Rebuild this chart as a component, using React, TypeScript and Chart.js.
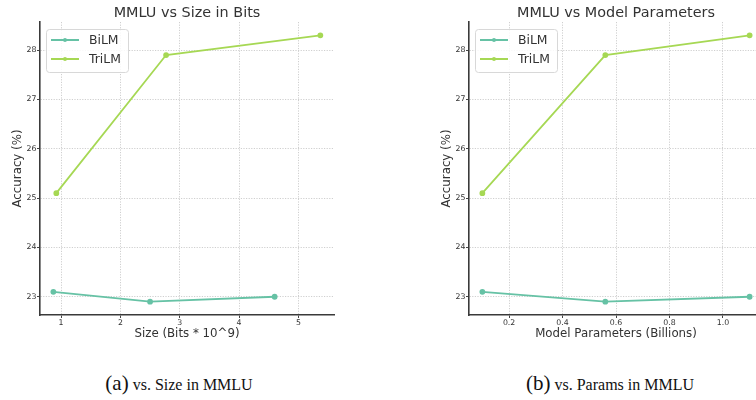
import React, { useEffect, useRef } from "react";
import { Chart, registerables } from "chart.js";

Chart.register(...registerables);

// ---- data ----
const seriesNames = ["BiLM", "TriLM"];
const seriesColors = ["#66c2a5", "#a6d854"];
const bitsBiLM = [0.87, 2.5, 4.6];
const bitsTriLM = [0.92, 2.77, 5.37];
const paramsBiLM = [0.1, 0.56, 1.1];
const paramsTriLM = [0.1, 0.56, 1.1];
const accBiLM = [23.1, 22.9, 23.0];
const accTriLM = [25.1, 27.9, 28.3];
const yTicks = [23, 24, 25, 26, 27, 28];
const xTicksBits = [1, 2, 3, 4, 5];
const xTicksParams = [0.2, 0.4, 0.6, 0.8, 1.0];

const FONT = "'DejaVu Sans', sans-serif";
const TEXT = "#333333";

const legendPlugin = {
  id: "boxLegend",
  afterDatasetsDraw(chart: any, _args: any, opts: any) {
    const { ctx, chartArea } = chart;
    ctx.save();
    // title centred over the plot area
    ctx.fillStyle = TEXT;
    ctx.font = `14.4px ${FONT}`;
    ctx.textAlign = "center";
    ctx.textBaseline = "middle";
    ctx.fillText(opts.title, (chartArea.left + chartArea.right) / 2, 13);

    const x = chartArea.left + 6;
    const y = chartArea.top + 7;
    const w = 82;
    const h = 43;
    ctx.fillStyle = "rgba(255,255,255,0.85)";
    ctx.strokeStyle = "#d8d8d8";
    ctx.lineWidth = 1;
    ctx.beginPath();
    if (ctx.roundRect) ctx.roundRect(x + 0.5, y + 0.5, w, h, 3);
    else ctx.rect(x + 0.5, y + 0.5, w, h);
    ctx.fill();
    ctx.stroke();
    chart.data.datasets.forEach((ds: any, i: number) => {
      const ly = y + 11 + i * 19;
      ctx.strokeStyle = ds.borderColor;
      ctx.lineWidth = 2;
      ctx.beginPath();
      ctx.moveTo(x + 5, ly);
      ctx.lineTo(x + 33, ly);
      ctx.stroke();
      ctx.fillStyle = ds.borderColor;
      ctx.beginPath();
      ctx.arc(x + 19, ly, 2, 0, Math.PI * 2);
      ctx.fill();
      ctx.fillStyle = TEXT;
      ctx.font = `12.4px ${FONT}`;
      ctx.textBaseline = "middle";
      ctx.textAlign = "left";
      ctx.fillText(ds.label, x + 43, ly + 0.5);
    });
    ctx.restore();
  },
};

function makeChart(
  canvas: HTMLCanvasElement,
  title: string,
  xTitle: string,
  xsB: number[],
  xsT: number[],
  xTicks: number[],
  xMin: number,
  xMax: number,
  fmt: (v: number) => string,
  yAxisWidth: number,
  yTitlePad: number,
  padRight: number
) {
  const tickList = (vals: number[]) => vals.map((v) => ({ value: v }));
  return new Chart(canvas, {
    type: "line",
    data: {
      datasets: [
        {
          label: seriesNames[0],
          data: xsB.map((x, i) => ({ x, y: accBiLM[i] })),
          borderColor: seriesColors[0],
          backgroundColor: seriesColors[0],
          borderWidth: 1.8,
          pointRadius: 2,
          pointHoverRadius: 2,
          tension: 0,
        },
        {
          label: seriesNames[1],
          data: xsT.map((x, i) => ({ x, y: accTriLM[i] })),
          borderColor: seriesColors[1],
          backgroundColor: seriesColors[1],
          borderWidth: 1.8,
          pointRadius: 2,
          pointHoverRadius: 2,
          tension: 0,
        },
      ],
    },
    options: {
      responsive: false,
      animation: false,
      events: [],
      layout: { padding: { left: 0, right: padRight, top: 22, bottom: 0 } },
      plugins: {
        legend: { display: false },
        tooltip: { enabled: false },
        title: { display: false },
        boxLegend: { title },
      },
      scales: {
        x: {
          type: "linear",
          min: xMin,
          max: xMax,
          afterBuildTicks: (s: any) => {
            s.ticks = tickList(xTicks);
          },
          afterFit: (s: any) => {
            s.height = 30;
          },
          ticks: {
            color: TEXT,
            font: { family: FONT, size: 7.8 },
            padding: 0,
            maxRotation: 0,
            callback: (v: any) => fmt(Number(v)),
          },
          grid: {
            color: "#cfcfcf",
            lineWidth: 1,
            drawTicks: true,
            tickLength: 3,
            tickColor: "#444",
            tickWidth: 1,
          },
          border: { display: true, color: "#3a3a3a", width: 1.6, dash: [1.2, 1.4] },
          title: {
            display: true,
            text: xTitle,
            color: TEXT,
            font: { family: FONT, size: 11.8 },
            padding: { top: 0, bottom: 4 },
          },
        },
        y: {
          type: "linear",
          min: 22.63,
          max: 28.57,
          afterBuildTicks: (s: any) => {
            s.ticks = tickList(yTicks);
          },
          afterFit: (s: any) => {
            s.width = yAxisWidth;
          },
          ticks: {
            color: TEXT,
            font: { family: FONT, size: 7.8 },
            padding: 0.5,
            callback: (v: any) => String(v),
          },
          grid: {
            color: "#cfcfcf",
            lineWidth: 1,
            drawTicks: true,
            tickLength: 3,
            tickColor: "#444",
            tickWidth: 1,
          },
          border: { display: true, color: "#3a3a3a", width: 1.6, dash: [1.2, 1.4] },
          title: {
            display: true,
            text: "Accuracy (%)",
            color: TEXT,
            font: { family: FONT, size: 11.8 },
            padding: { top: yTitlePad, bottom: 0 },
          },
        },
      },
    } as any,
    plugins: [legendPlugin],
  });
}

export default function App() {
  const leftRef = useRef<HTMLCanvasElement>(null);
  const rightRef = useRef<HTMLCanvasElement>(null);

  useEffect(() => {
    const c1 = makeChart(
      leftRef.current!,
      "MMLU vs Size in Bits",
      "Size (Bits * 10^9)",
      bitsBiLM,
      bitsTriLM,
      xTicksBits,
      0.645,
      5.6,
      (v) => String(v),
      40,
      11,
      44
    );
    const c2 = makeChart(
      rightRef.current!,
      "MMLU vs Model Parameters",
      "Model Parameters (Billions)",
      paramsBiLM,
      paramsTriLM,
      xTicksParams,
      0.05,
      1.15,
      (v) => v.toFixed(1),
      91,
      62,
      15
    );
    return () => {
      c1.destroy();
      c2.destroy();
    };
  }, []);

  const capStyle: React.CSSProperties = {
    position: "absolute",
    top: 370,
    width: 300,
    textAlign: "center",
    fontFamily: "'Liberation Serif', 'Times New Roman', serif",
    color: "#111",
    whiteSpace: "nowrap",
    lineHeight: "26px",
  };

  return (
    <div
      style={{
        position: "absolute",
        left: 0,
        top: 0,
        width: 756,
        height: 400,
        overflow: "hidden",
        background: "#fff",
      }}
    >
      <canvas
        ref={leftRef}
        width={378}
        height={345}
        style={{ position: "absolute", left: 0, top: 0, width: 378, height: 345 }}
      />
      <canvas
        ref={rightRef}
        width={400}
        height={345}
        style={{ position: "absolute", left: 378, top: 0, width: 400, height: 345 }}
      />
      <div style={{ ...capStyle, left: 179 - 150 }}>
        <span style={{ fontSize: 21 }}>(a)</span>{" "}
        <span style={{ fontSize: 16 }}>vs. Size in MMLU</span>
      </div>
      <div style={{ ...capStyle, left: 610 - 150 }}>
        <span style={{ fontSize: 21 }}>(b)</span>{" "}
        <span style={{ fontSize: 16 }}>vs. Params in MMLU</span>
      </div>
    </div>
  );
}
